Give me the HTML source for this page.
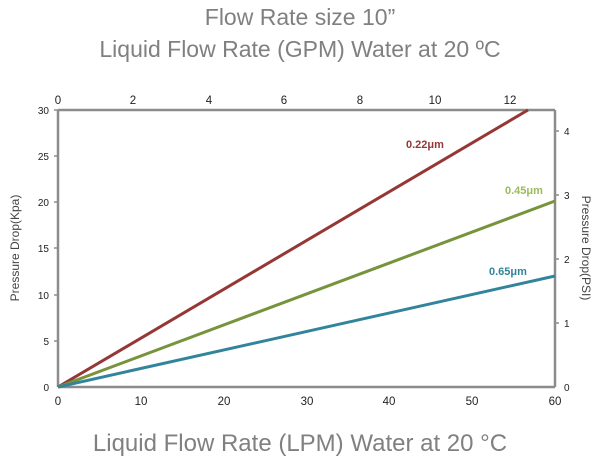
<!DOCTYPE html>
<html><head><style>body{margin:0;background:#fff}svg{display:block}</style></head><body>
<svg width="600" height="462" viewBox="0 0 600 462" font-family="Liberation Sans, sans-serif">
<text x="300" y="25" font-size="23" fill="#808080" text-anchor="middle">Flow Rate size 10”</text>
<text x="300" y="57" font-size="23" fill="#808080" text-anchor="middle">Liquid Flow Rate (GPM) Water at 20 ºC</text>
<text x="300" y="451" font-size="24" fill="#808080" text-anchor="middle">Liquid Flow Rate (LPM) Water at 20 °C</text>
<g stroke="#8c8c8c" stroke-width="2.5" fill="none">
<line x1="58" y1="110" x2="555" y2="110"/>
<line x1="58" y1="110" x2="58" y2="387"/>
<line x1="58" y1="387" x2="555" y2="387"/>
<line x1="555" y1="110" x2="555" y2="387"/>
</g>
<g stroke="#8c8c8c" stroke-width="1.5">
<line x1="54" y1="110" x2="58" y2="110"/><line x1="54" y1="156" x2="58" y2="156"/><line x1="54" y1="202" x2="58" y2="202"/><line x1="54" y1="248" x2="58" y2="248"/><line x1="54" y1="295" x2="58" y2="295"/><line x1="54" y1="341" x2="58" y2="341"/>
<line x1="555" y1="323" x2="559" y2="323"/><line x1="555" y1="259" x2="559" y2="259"/><line x1="555" y1="195" x2="559" y2="195"/><line x1="555" y1="131" x2="559" y2="131"/>
</g>
<g font-size="10" fill="#222" text-anchor="end">
<text x="49" y="114">30</text><text x="49" y="160">25</text><text x="49" y="206">20</text><text x="49" y="252">15</text><text x="49" y="299">10</text><text x="49" y="345">5</text><text x="49" y="391">0</text>
</g>
<g font-size="10" fill="#222">
<text x="564" y="391">0</text><text x="564" y="327">1</text><text x="564" y="263">2</text><text x="564" y="199">3</text><text x="564" y="135">4</text>
</g>
<g font-size="11.5" fill="#222" text-anchor="middle">
<text x="58" y="104">0</text><text x="133" y="104">2</text><text x="209" y="104">4</text><text x="284" y="104">6</text><text x="360" y="104">8</text><text x="435" y="104">10</text><text x="510" y="104">12</text>
<text x="58" y="405">0</text><text x="141" y="405">10</text><text x="224" y="405">20</text><text x="307" y="405">30</text><text x="389" y="405">40</text><text x="472" y="405">50</text><text x="555" y="405">60</text>
</g>
<text transform="translate(19,248) rotate(-90)" font-size="12" fill="#444" text-anchor="middle">Pressure Drop(Kpa)</text>
<text transform="translate(582,248) rotate(90)" font-size="12" fill="#444" text-anchor="middle">Pressure Drop(PSI)</text>
<g stroke-width="3" fill="none">
<line x1="58" y1="387" x2="528" y2="110" stroke="#953735"/>
<line x1="58" y1="387" x2="555" y2="201" stroke="#77933c"/>
<line x1="58" y1="387" x2="555" y2="276" stroke="#31849b"/>
</g>
<g font-size="11" font-weight="bold">
<text x="406" y="148" fill="#953735">0.22μm</text>
<text x="505" y="194" fill="#9bbb59">0.45μm</text>
<text x="489" y="275" fill="#31849b">0.65μm</text>
</g>
</svg>
</body></html>
